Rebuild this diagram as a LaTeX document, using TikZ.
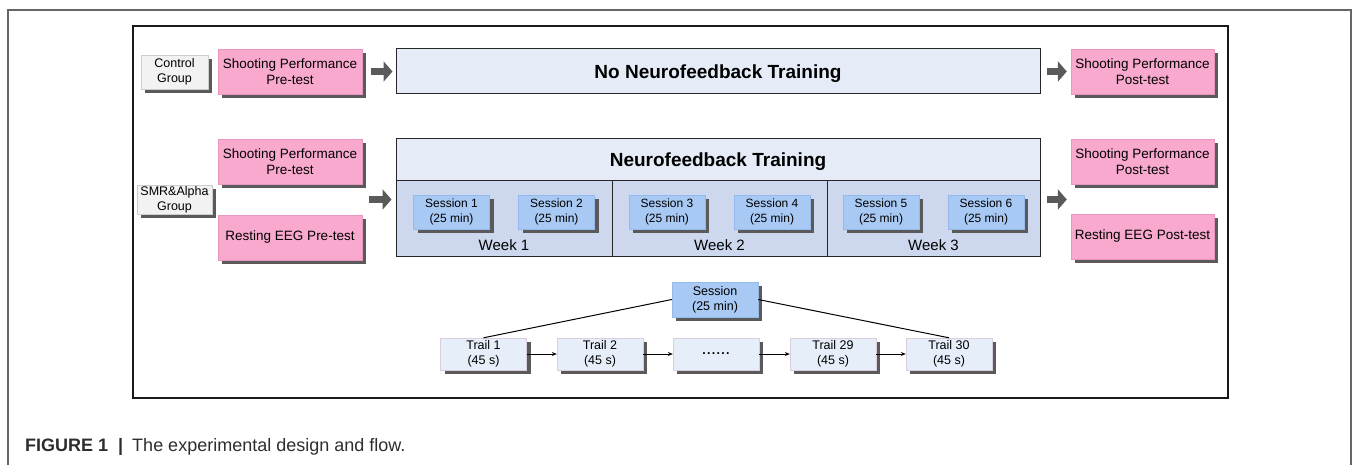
\documentclass[tikz,border=0pt]{standalone}
\usepackage{fontspec}
\setmainfont{Liberation Sans}
\usetikzlibrary{arrows.meta,shadows}

\definecolor{testpink}{RGB}{249,168,206}
\definecolor{testline}{RGB}{232,150,190}
\definecolor{grpfill}{RGB}{242,242,242}
\definecolor{grpline}{RGB}{205,205,205}
\definecolor{nfpale}{RGB}{229,236,247}
\definecolor{nfweek}{RGB}{205,216,238}
\definecolor{sessfill}{RGB}{168,201,243}
\definecolor{sessline}{RGB}{150,185,235}
\definecolor{trailfill}{RGB}{230,238,250}
\definecolor{trailline}{RGB}{218,205,222}
\definecolor{shadowgray}{RGB}{90,90,90}
\definecolor{captext}{RGB}{45,45,45}

\tikzset{
  shadowed/.style={drop shadow={shadow xshift=4pt,shadow yshift=-4pt,fill=shadowgray,opacity=1}},
  grpbox/.style={shadowed,draw=grpline,fill=grpfill,align=center,inner sep=0pt,
    font=\fontsize{12.5}{15}\selectfont},
  testbox/.style={shadowed,draw=testline,fill=testpink,minimum width=144pt,minimum height=45pt,
    align=center,inner sep=0pt,font=\fontsize{13.5}{16}\selectfont},
  nfbox/.style={draw=black!85,line width=1pt,fill=nfpale,inner sep=0pt,text depth=0pt,
    font=\fontsize{19}{22}\selectfont\bfseries},
  weekbox/.style={draw=black!85,line width=1pt,fill=nfweek,minimum height=75pt,inner sep=0pt},
  sessbox/.style={shadowed,draw=sessline,fill=sessfill,minimum width=76pt,minimum height=34pt,
    align=center,inner sep=0pt,font=\fontsize{12}{15.5}\selectfont},
  trailbox/.style={shadowed,draw=trailline,fill=trailfill,minimum width=86pt,minimum height=32pt,
    align=center,inner sep=0pt,font=\fontsize{12.5}{14.5}\selectfont},
  bigarrow/.style={draw=shadowgray,line width=7pt,-{Triangle[length=9pt,width=20pt]}},
  smallarrow/.style={black,line width=0.9pt,-{Stealth[length=5pt,width=4pt]}}
}

\begin{document}
\begin{tikzpicture}[x=1pt,y=-1pt]
  \useasboundingbox (0,0) rectangle (1354,465);
  % frames
  \draw[black!60,line width=1.2pt] (8,466) -- (8,10) -- (1351,10) -- (1351,466);
  \draw[black!90,line width=1.2pt] (133,26) rectangle (1228,398);

  % control group
  \node[grpbox,minimum width=67pt,minimum height=34pt] (ctrl) at (174.5,72) {Control\\Group};
  \node[testbox] (pre1) at (290,71.5) {Shooting Performance\\Pre-test};
  \node[nfbox,minimum width=644pt,minimum height=45pt] (nonf) at (718,71.5) {No Neurofeedback Training};
  \node[testbox,minimum width=143pt] (post1) at (1142.5,71.5) {Shooting Performance\\Post-test};
  \draw[bigarrow,shorten <=9pt,shorten >=3pt] (pre1) -- (nonf);
  \draw[bigarrow,shorten <=6pt,shorten >=4pt] (nonf) -- (post1);

  % SMR & alpha group
  \node[grpbox,minimum width=75pt,minimum height=29pt] (smr) at (174.5,199.5) {SMR\&Alpha\\Group};
  \node[testbox] (pre2) at (290,161.5) {Shooting Performance\\Pre-test};
  \node[testbox] (eegpre) at (290,237.5) {Resting EEG Pre-test};
  \node[nfbox,minimum width=644pt,minimum height=42pt] (nfhead) at (718,160) {Neurofeedback Training};
  \foreach \w/\cx/\ww/\a/\b in {1/504/216/1/2,2/719.5/215/3/4,3/933.5/213/5/6}{
    \node[weekbox,minimum width=\ww pt] (week\w) at (\cx,218.5) {};
    \node[sessbox] (sess\a) at (\cx-52.5,212) {Session \a\\(25 min)};
    \node[sessbox] (sess\b) at (\cx+52.5,212) {Session \b\\(25 min)};
    \node[font=\fontsize{15}{18}\selectfont] (wlab\w) at (\cx,245) {Week \w};
  }
  \node[testbox,minimum width=143pt] (post2) at (1142.5,161.5) {Shooting Performance\\Post-test};
  \node[testbox,minimum width=143pt] (eegpost) at (1142.5,236.5) {Resting EEG Post-test};
  \draw[bigarrow] ([xshift=7pt]pre2.east |- smr) -- ([xshift=-4pt]week1.west |- smr);
  \draw[bigarrow] ([xshift=6pt]week3.east |- smr) -- ([xshift=-4pt]post2.west |- smr);

  % one session
  \node[sessbox,minimum width=86pt,minimum height=35pt,font=\fontsize{12.5}{15}\selectfont] (sess) at (715,299.5) {Session\\(25 min)};
  \node[trailbox] (trail1) at (483.5,354) {Trail 1\\(45 s)};
  \node[trailbox] (trail2) at (600,354) {Trail 2\\(45 s)};
  \node[trailbox] (dots) at (716,354) {\textbf{\raisebox{1pt}{.\kern1.3pt.\kern1.3pt.\kern1.3pt.\kern1.3pt.\kern1.3pt.}}};
  \node[trailbox] (trail29) at (833,354) {Trail 29\\(45 s)};
  \node[trailbox] (trail30) at (949,354) {Trail 30\\(45 s)};
  \draw[black,line width=1pt] (sess.west) -- (trail1.north);
  \draw[black,line width=1pt] (sess.east) -- (trail30.north);
  \draw[smallarrow] (trail1) -- (trail2);
  \draw[smallarrow] (trail2) -- (dots);
  \draw[smallarrow] (dots) -- (trail29);
  \draw[smallarrow] (trail29) -- (trail30);

  % caption
  \node[anchor=west,text=captext,font=\fontsize{18}{20}\selectfont,inner sep=0pt] (caption) at (25,447)
    {\textbf{FIGURE 1}\hspace{10pt}\textbf{|}\hspace{9pt}The experimental design and flow.};
\end{tikzpicture}
\end{document}
